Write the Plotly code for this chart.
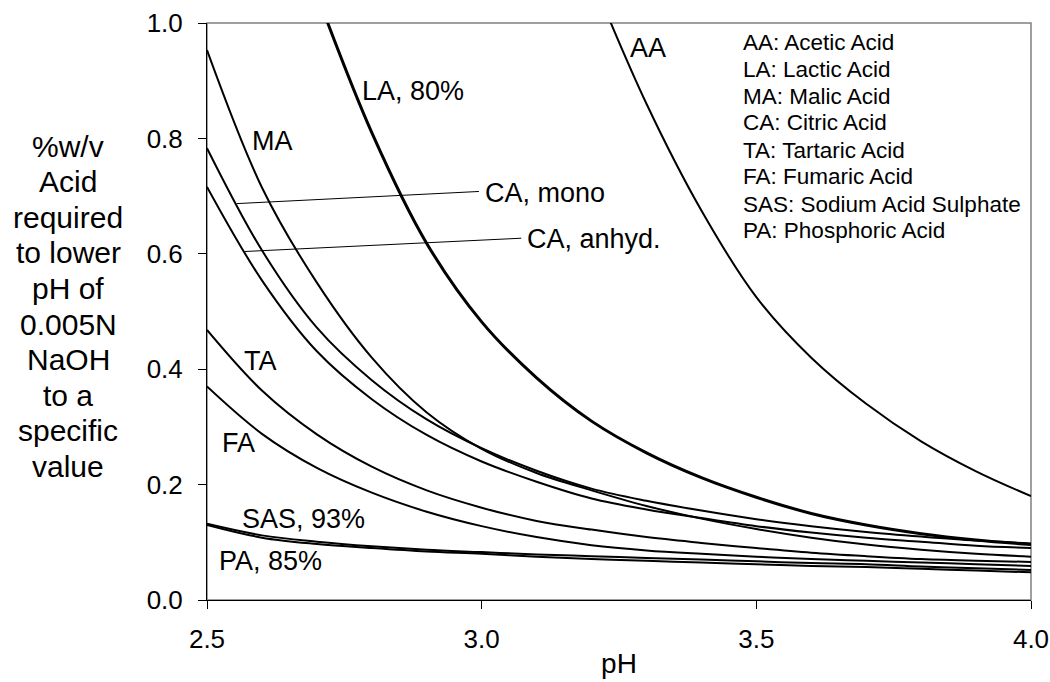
import plotly.graph_objects as go

# ---------------- data ----------------
ph_main = [2.5, 2.6, 2.7, 2.8, 2.9, 3.0, 3.1, 3.2, 3.3, 3.4, 3.5, 3.6, 3.7, 3.8, 3.9, 4.0]
ph_la = [2.7, 2.8, 2.9, 3.0, 3.1, 3.2, 3.3, 3.4, 3.5, 3.6, 3.7, 3.8, 3.9, 4.0]
ph_aa = [3.2, 3.3, 3.4, 3.5, 3.6, 3.7, 3.8, 3.9, 4.0]

aa_vals = [1.08, 0.86, 0.675, 0.525, 0.42, 0.34, 0.275, 0.223, 0.18]
la_vals = [1.05, 0.81, 0.618, 0.482, 0.385, 0.31, 0.255, 0.212, 0.178, 0.150, 0.130, 0.115, 0.104, 0.096]
ma_vals = [0.953, 0.715, 0.550, 0.420, 0.325, 0.262, 0.220, 0.190, 0.163, 0.141, 0.123, 0.108, 0.096, 0.087, 0.080, 0.075]
ca_mono_vals = [0.783, 0.606, 0.472, 0.381, 0.313, 0.263, 0.224, 0.193, 0.172, 0.155, 0.140, 0.128, 0.118, 0.110, 0.103, 0.098]
ca_anhyd_vals = [0.716, 0.554, 0.431, 0.348, 0.286, 0.240, 0.205, 0.176, 0.157, 0.142, 0.128, 0.117, 0.108, 0.101, 0.094, 0.090]
ta_vals = [0.468, 0.363, 0.287, 0.231, 0.190, 0.160, 0.137, 0.122, 0.109, 0.099, 0.090, 0.082, 0.076, 0.071, 0.068, 0.066]
fa_vals = [0.370, 0.288, 0.229, 0.186, 0.153, 0.128, 0.109, 0.095, 0.086, 0.080, 0.075, 0.071, 0.068, 0.065, 0.062, 0.059]
sas_vals = [0.132, 0.112, 0.101, 0.093, 0.087, 0.083, 0.079, 0.076, 0.073, 0.070, 0.067, 0.064, 0.062, 0.058, 0.055, 0.052]
pa_vals = [0.130, 0.108, 0.097, 0.090, 0.084, 0.080, 0.075, 0.071, 0.068, 0.065, 0.062, 0.059, 0.057, 0.054, 0.051, 0.048]

# curve labels: text, pH, value
curve_labels = ["AA", "LA, 80%", "MA", "CA, mono", "CA, anhyd.", "TA", "FA", "SAS, 93%", "PA, 85%"]
label_ph = [3.266, 2.779, 2.578, 3.002, 3.079, 2.563, 2.524, 2.560, 2.518]
label_val = [0.957, 0.882, 0.795, 0.706, 0.625, 0.414, 0.272, 0.140, 0.067]

# leader lines for the citric acid labels (pH, value pairs)
leader_mono_ph = [2.554, 2.995]
leader_mono_val = [0.687, 0.708]
leader_anhyd_ph = [2.569, 3.072]
leader_anhyd_val = [0.604, 0.627]

key_lines = ["AA: Acetic Acid", "LA: Lactic Acid", "MA: Malic Acid", "CA: Citric Acid",
             "TA: Tartaric Acid", "FA: Fumaric Acid", "SAS: Sodium Acid Sulphate",
             "PA: Phosphoric Acid"]

ytitle_lines = ["%w/v", "Acid", "required", "to lower", "pH of", "0.005N", "NaOH",
                "to a", "specific", "value"]

x_ticks = [2.5, 3.0, 3.5, 4.0]
x_ticktext = ["2.5", "3.0", "3.5", "4.0"]
y_ticks = [0.0, 0.2, 0.4, 0.6, 0.8, 1.0]
y_ticktext = ["0.0", "0.2", "0.4", "0.6", "0.8", "1.0"]

# ---------------- figure ----------------
FONT = "Liberation Sans, Arial, sans-serif"
W, H = 1050, 682
ML, MR, MT, MB = 207, 19, 23, 82
PW = W - ML - MR
PH = H - MT - MB

fig = go.Figure()

series = [
    (ph_aa, aa_vals, 2.0),
    (ph_la, la_vals, 3.0),
    (ph_main, ma_vals, 2.0),
    (ph_main, ca_mono_vals, 2.0),
    (ph_main, ca_anhyd_vals, 2.0),
    (ph_main, ta_vals, 2.0),
    (ph_main, fa_vals, 2.0),
    (ph_main, sas_vals, 2.0),
    (ph_main, pa_vals, 2.0),
]
for xs, ys, w in series:
    fig.add_trace(go.Scatter(x=xs, y=ys, mode="lines",
                             line=dict(color="black", width=w, shape="spline", smoothing=1.0),
                             showlegend=False, hoverinfo="skip"))

for xs, ys in [(leader_mono_ph, leader_mono_val), (leader_anhyd_ph, leader_anhyd_val)]:
    fig.add_trace(go.Scatter(x=xs, y=ys, mode="lines",
                             line=dict(color="black", width=1),
                             showlegend=False, hoverinfo="skip"))

annotations = []
for t, xv, yv in zip(curve_labels, label_ph, label_val):
    annotations.append(dict(x=xv, y=yv, xref="x", yref="y", text=t, showarrow=False,
                            xanchor="left", yanchor="middle",
                            font=dict(family=FONT, size=27, color="black")))

# key text block, one line each
for i, t in enumerate(key_lines):
    ypix = 42 + i * 27.0
    annotations.append(dict(x=(741 - ML) / PW, y=(MT + PH - ypix) / PH, xref="paper", yref="paper",
                            text=t, showarrow=False, xanchor="left", yanchor="middle",
                            font=dict(family=FONT, size=22.5, color="black")))

# y-axis title, one line each
for i, t in enumerate(ytitle_lines):
    ypix = 146 + i * 35.6
    annotations.append(dict(x=(68 - ML) / PW, y=(MT + PH - ypix) / PH, xref="paper", yref="paper",
                            text=t, showarrow=False, xanchor="center", yanchor="middle",
                            font=dict(family=FONT, size=30, color="black")))

fig.update_layout(
    width=W, height=H,
    margin=dict(l=ML, r=MR, t=MT, b=MB, pad=0),
    paper_bgcolor="white", plot_bgcolor="white",
    font=dict(family=FONT, color="black"),
    annotations=annotations,
    shapes=[dict(type="rect", xref="paper", yref="paper", x0=0, y0=0, x1=1, y1=1,
                 line=dict(color="#808080", width=1.5), layer="below")],
    showlegend=False,
)
fig.update_xaxes(range=[2.5, 4.0], tickvals=x_ticks, ticktext=x_ticktext, automargin=False,
                 ticks="outside", ticklen=8, tickwidth=1, tickcolor="black",
                 showline=True, linecolor="black", linewidth=1, showgrid=False, zeroline=False,
                 tickfont=dict(family=FONT, size=26, color="black"), ticklabelstandoff=8,
                 title=dict(text="pH", font=dict(family=FONT, size=28, color="black"), standoff=0))
fig.update_yaxes(range=[0.0, 1.0], tickvals=y_ticks, ticktext=y_ticktext, automargin=False,
                 ticks="outside", ticklen=8, tickwidth=1, tickcolor="black",
                 showline=True, linecolor="black", linewidth=1, showgrid=False, zeroline=False,
                 tickfont=dict(family=FONT, size=26, color="black"), ticklabelstandoff=10)

fig.write_html("out.html")
